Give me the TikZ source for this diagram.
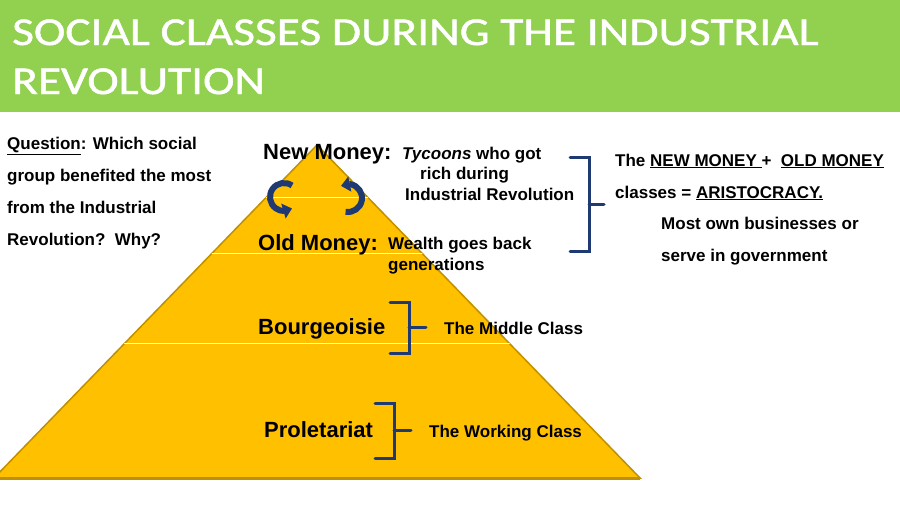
\documentclass[tikz,border=0pt]{standalone}
\usepackage{fontspec}
\setmainfont{Liberation Sans}
\newfontfamily\titlefont[FakeStretch=1.2, FakeBold=1.2]{Carlito}
\usetikzlibrary{arrows.meta,bending}
\definecolor{slidegreen}{HTML}{92D050}
\definecolor{pyrgold}{HTML}{FFC000}
\definecolor{pyredge}{HTML}{BF9000}
\definecolor{bracenavy}{HTML}{1F3A73}

\begin{document}
\begin{tikzpicture}[x=1pt, y=-1pt,
  classname/.style={font=\fontsize{22}{26}\selectfont\bfseries, anchor=base west, inner sep=0pt},
  note/.style={font=\fontsize{17}{20}\selectfont\bfseries, anchor=base west, inner sep=0pt},
  titleline/.style={anchor=base west, inner sep=0pt, text=white, font=\titlefont\fontsize{39.5}{48}\selectfont},
  bracepath/.style={draw=bracenavy, line width=3pt, line cap=round},
  cyclearrow/.style={draw=bracenavy, line width=6pt, -{Triangle[length=9pt, width=15pt, flex]}}]
  \useasboundingbox (0,0) rectangle (900,506);

  % title bar
  \fill[slidegreen] (0,0) rectangle (900,112);
  \node[titleline] (titleA) at (12,45) {SOCIAL CLASSES DURING THE INDUSTRIAL};
  \node[titleline] (titleB) at (12,94) {REVOLUTION};

  % pyramid
  \fill[pyrgold, draw=pyredge, line width=1.5pt] (317,145) -- (640,478) -- (-6,478) -- cycle;
  \begin{scope}
    \clip (317,145) -- (640,478) -- (-6,478) -- cycle;
    \foreach \yy in {197,253,343}
      \draw[white, line width=1pt] (0,\yy) -- (700,\yy);
  \end{scope}
  \draw[pyredge, line width=3pt] (0,478) -- (640,478);

  % circular arrows
  \draw[cyclearrow] (284,197) ++(-55:14) arc[start angle=-55, end angle=-305, radius=14];
  \draw[cyclearrow] (348,198) ++(100:14) arc[start angle=100, end angle=-120, radius=14];

  % question
  \node[note, anchor=north west, align=left, font=\fontsize{17}{32}\selectfont\bfseries] (question) at (7,137)
    {\underline{Question}: Which social\\group benefited the most\\from the Industrial\\Revolution?\ \ Why?};

  % class names
  \node[classname] (newmoney) at (263,159) {New Money:};
  \node[note] (tyc1) at (402,159) {\textit{Tycoons} who got};
  \node[note] (tyc2) at (420,179) {rich during};
  \node[note] (tyc3) at (405,200) {Industrial Revolution};
  \node[classname] (oldmoney) at (258,250) {Old Money:};
  \node[note] (wealth1) at (388,249) {Wealth goes back};
  \node[note] (wealth2) at (388,270) {generations};
  \node[classname] (bourg) at (258,334) {Bourgeoisie};
  \node[note] (middle) at (444,334) {The Middle Class};
  \node[classname] (prole) at (264,437) {Proletariat};
  \node[note] (working) at (429,437) {The Working Class};

  % aristocracy note
  \node[note] (aris1) at (615,166) {The \underline{NEW MONEY }+\ \ \underline{OLD MONEY}};
  \node[note] (aris2) at (615,198) {classes = \underline{ARISTOCRACY.}};
  \node[note] (aris3) at (661,229) {Most own businesses or};
  \node[note] (aris4) at (661,261) {serve in government};

  % brackets
  \draw[bracepath] (570,157) -- (589,157) -- (589,251) -- (570,251);
  \draw[bracepath] (589,204) -- (604,204);
  \draw[bracepath] (390,302) -- (409,302) -- (409,353) -- (390,353);
  \draw[bracepath] (409,327) -- (426,327);
  \draw[bracepath] (375,403) -- (394,403) -- (394,458) -- (375,458);
  \draw[bracepath] (394,430) -- (411,430);
\end{tikzpicture}
\end{document}
